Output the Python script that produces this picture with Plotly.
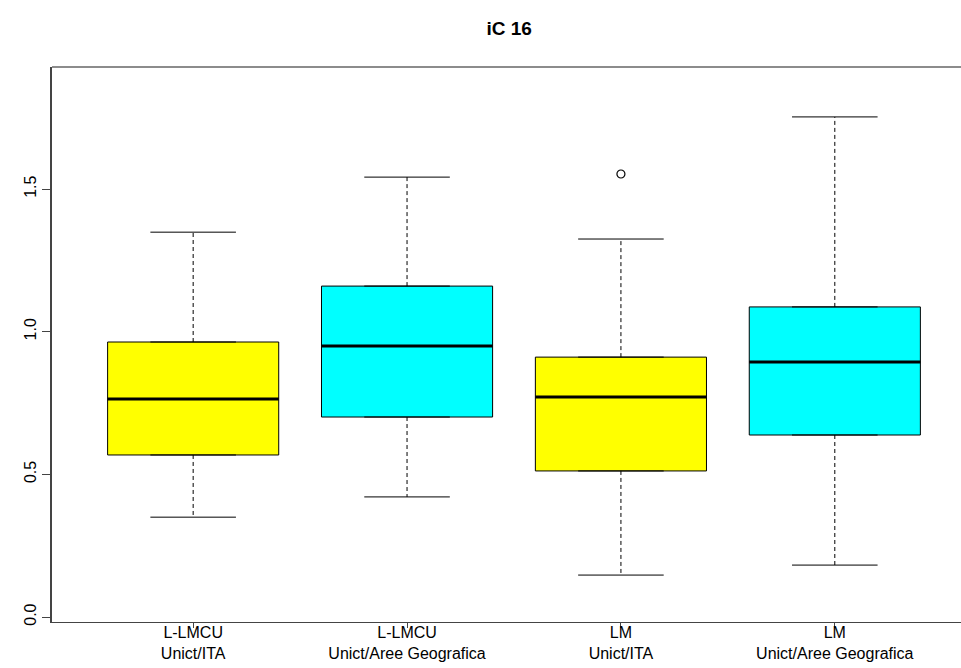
import plotly.graph_objects as go

# Summary statistics for each group (iC 16 indicator)
groups = ["L-LMCU<br>Unict/ITA", "L-LMCU<br>Unict/Aree Geografica",
          "LM<br>Unict/ITA", "LM<br>Unict/Aree Geografica"]
lower_whisker = [0.350, 0.421, 0.147, 0.182]
q1 = [0.568, 0.701, 0.512, 0.638]
median = [0.764, 0.950, 0.771, 0.894]
q3 = [0.964, 1.160, 0.911, 1.087]
upper_whisker = [1.349, 1.542, 1.325, 1.753]
outlier_x = [3]
outlier_y = [1.553]
fill_colors = ["#FFFF00", "#00FFFF", "#FFFF00", "#00FFFF"]

box_width = 0.8
staple_half = 0.2

positions = list(range(1, len(groups) + 1))

fig = go.Figure()

# Boxes (interquartile range)
for i, pos in enumerate(positions):
    fig.add_trace(go.Box(
        x=[pos], q1=[q1[i]], median=[median[i]], q3=[q3[i]],
        lowerfence=[q1[i]], upperfence=[q3[i]],
        width=box_width, fillcolor=fill_colors[i],
        line=dict(color="black", width=1),
        boxpoints=False, hoverinfo="skip", showlegend=False,
    ))

# Dashed whiskers, solid staples and thick medians
for i, pos in enumerate(positions):
    fig.add_trace(go.Scatter(
        x=[pos, pos, None, pos, pos],
        y=[q3[i], upper_whisker[i], None, q1[i], lower_whisker[i]],
        mode="lines", line=dict(color="black", width=1, dash="4px,3px"),
        hoverinfo="skip", showlegend=False,
    ))
    fig.add_trace(go.Scatter(
        x=[pos - staple_half, pos + staple_half, None,
           pos - staple_half, pos + staple_half],
        y=[upper_whisker[i], upper_whisker[i], None,
           lower_whisker[i], lower_whisker[i]],
        mode="lines", line=dict(color="black", width=1),
        hoverinfo="skip", showlegend=False,
    ))
    fig.add_trace(go.Scatter(
        x=[pos - box_width / 2, pos + box_width / 2],
        y=[median[i], median[i]],
        mode="lines", line=dict(color="black", width=3),
        hoverinfo="skip", showlegend=False,
    ))

# Outliers
fig.add_trace(go.Scatter(
    x=outlier_x, y=outlier_y, mode="markers",
    marker=dict(symbol="circle-open", size=8, color="black",
                line=dict(width=1.2)),
    hoverinfo="skip", showlegend=False,
))

# Top edge of the plot frame (the frame runs past the right edge)
fig.add_shape(type="line", xref="paper", yref="paper",
              x0=0, x1=1.02, y0=1, y1=1,
              line=dict(color="#666", width=1.5))

fig.update_layout(
    width=961, height=668,
    margin=dict(l=52, r=0, t=67, b=46),
    paper_bgcolor="white", plot_bgcolor="white",
    font=dict(family="Liberation Sans, Arial, sans-serif", color="black"),
    title=dict(text="<b>iC 16</b>", x=0.503, xref="paper", xanchor="center",
               y=1 - 28 / 668, yref="container", yanchor="middle",
               font=dict(size=19, color="black")),
    xaxis=dict(
        range=[0.34, 4.59], tickmode="array", tickvals=positions,
        ticktext=groups, showgrid=False, zeroline=False,
        showline=True, linecolor="#444", linewidth=1, mirror=False,
        ticks="outside", ticklen=5, tickcolor="#444",
        ticklabelstandoff=-9,
        tickfont=dict(size=16), fixedrange=True,
    ),
    yaxis=dict(
        range=[-0.0175, 1.928], tickmode="array",
        tickvals=[0.0, 0.5, 1.0, 1.5],
        ticktext=["0.0", "0.5", "1.0", "1.5"],
        tickangle=-90, showgrid=False, zeroline=False,
        showline=True, linecolor="#444", linewidth=1.5,
        ticks="outside", ticklen=8, tickcolor="#444",
        tickfont=dict(size=16), fixedrange=True,
    ),
)

fig.write_html("out.html")
